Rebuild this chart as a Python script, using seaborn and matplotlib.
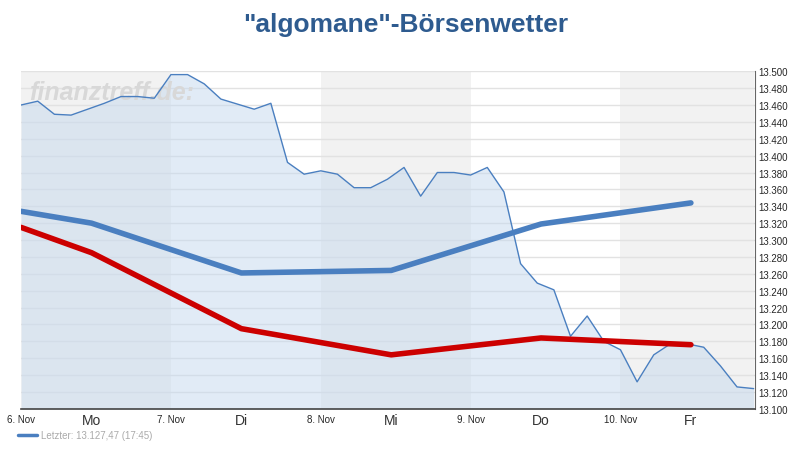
import matplotlib
matplotlib.use("Agg")
import matplotlib.pyplot as plt
import seaborn as sns
import numpy as np
import pandas as pd

price = [13.460,13.4645,13.449,13.448,13.455,13.462,13.470,13.470,13.468,13.496,13.496,13.485,13.467,13.461,13.455,13.462,
         13.392,13.378,13.382,13.378,13.362,13.362,13.372,13.386,13.352,13.380,13.380,13.377,13.386,13.357,13.272,13.249,
         13.241,13.186,13.210,13.180,13.170,13.132,13.164,13.177,13.177,13.173,13.151,13.126,13.124]
trend_days = [0.0, 0.47, 1.47, 2.47, 3.47, 4.47]
blue_vals = [13.334, 13.320, 13.261, 13.264, 13.319, 13.344]
red_vals = [13.315, 13.285, 13.195, 13.164, 13.184, 13.176]
date_labels = ["6. Nov", "7. Nov", "8. Nov", "9. Nov", "10. Nov"]
day_labels = ["Mo", "Di", "Mi", "Do", "Fr"]

sns.set_style("white")
plt.rcParams['font.family'] = ['Liberation Sans', 'DejaVu Sans']

df = pd.DataFrame({"x": np.arange(len(price)) / 9.0, "y": price})
xmax = df["x"].iloc[-1]

fig = plt.figure(figsize=(8.12, 4.6), dpi=100)
ax = fig.add_axes([0.026, 0.109, 0.904, 0.734])
ymin, ymax = 13.100, 13.500
for d in [0, 2, 4]:
    ax.axvspan(d, min(d + 1, xmax), color="#f2f2f2", zorder=0, lw=0)
for v in np.arange(13.10, 13.5001, 0.02):
    ax.axhline(v, color="#e2e2e2", lw=1, zorder=1)

ax.fill_between(df["x"], df["y"], ymin, color="#c5d9ee", alpha=0.5, zorder=2, lw=0)
sns.lineplot(data=df, x="x", y="y", ax=ax, color="#4a7fc0", lw=1, zorder=3)
tdf = pd.DataFrame({"x": trend_days, "b": blue_vals, "r": red_vals})
sns.lineplot(data=tdf, x="x", y="b", ax=ax, color="#4a7fc0", lw=4, zorder=4, solid_capstyle="round")
sns.lineplot(data=tdf, x="x", y="r", ax=ax, color="#cc0000", lw=4, zorder=4, solid_capstyle="round")

ax.set_xlim(0, xmax + 0.01)
ax.set_ylim(ymin, ymax)
ax.set_xlabel(""); ax.set_ylabel("")
ax.yaxis.tick_right()
yt = np.arange(13.10, 13.5001, 0.02)
ax.set_yticks(yt)
ax.set_yticklabels([f"{v:.3f}" for v in yt], fontsize=7)
ax.tick_params(axis="y", length=0, pad=2)
ax.set_xticks([0, 1, 2, 3, 4])
ax.set_xticklabels(date_labels, fontsize=7)
ax.tick_params(axis="x", length=3, pad=1)
for i, lab in enumerate(day_labels):
    ax.text(i + 0.47, -0.033, lab, transform=ax.get_xaxis_transform(), ha="center", va="center", fontsize=10, color="#333333")
for s in ["top", "left"]:
    ax.spines[s].set_visible(False)
ax.spines["right"].set_color("#666666")
ax.spines["bottom"].set_color("#444444")
ax.spines["bottom"].set_linewidth(1.2)

ax.text(0.05, 13.49, "finanztreff.de:", fontsize=18, fontstyle="italic", fontweight="bold", color="#d8d8d8", va="top", zorder=2.5)
fig.text(0.5, 0.945, "\"algomane\"-Börsenwetter", ha="center", va="center", fontsize=19, fontweight="bold", color="#2e5b8f")
fig.add_artist(plt.Line2D([0.022, 0.045], [0.052, 0.052], color="#4a7fc0", lw=2.5))
fig.text(0.05, 0.052, "Letzter: 13.127,47 (17:45)", fontsize=7, color="#aaaaaa", va="center")
fig.savefig("out.png", dpi=100)
